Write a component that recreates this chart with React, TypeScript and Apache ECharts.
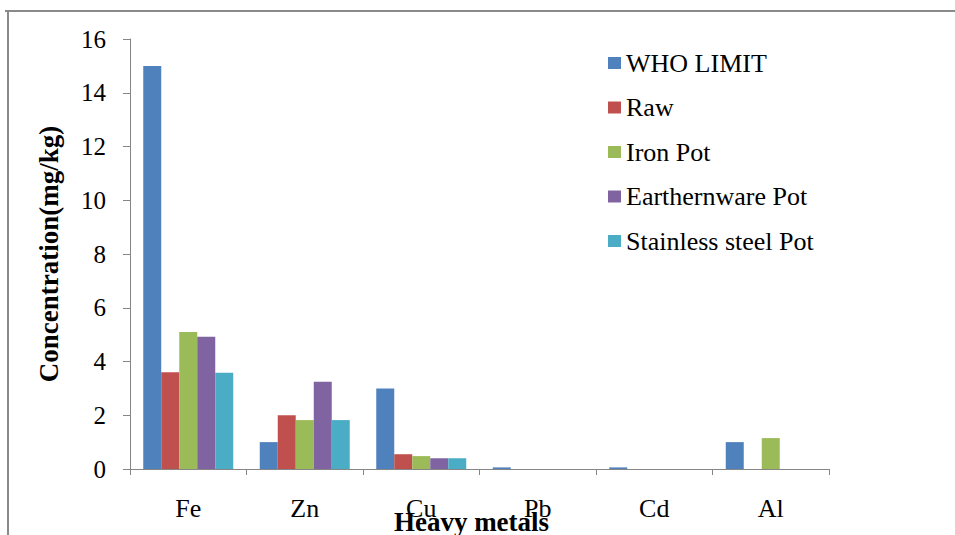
import React, { useEffect, useRef } from "react";
import * as echarts from "echarts";

const categories = ["Fe", "Zn", "Cu", "Pb", "Cd", "Al"];
const seriesNames = ["WHO LIMIT", "Raw", "Iron Pot", "Earthernware Pot", "Stainless steel Pot"];
const whoLimit = [15, 1.0, 3.0, 0.06, 0.06, 1.0];
const raw = [3.6, 2.0, 0.55, null, null, null];
const ironPot = [5.1, 1.82, 0.48, null, null, 1.15];
const earthenwarePot = [4.92, 3.25, 0.4, null, null, null];
const stainlessPot = [3.58, 1.82, 0.4, null, null, null];
const yTicks = { min: 0, max: 16, interval: 2 };
const colors = ["#4F81BD", "#C0504D", "#9BBB59", "#8064A2", "#4BACC6"];

const FONT = "Liberation Serif, Times New Roman, serif";

export default function App() {
  const ref = useRef<HTMLDivElement>(null);
  useEffect(() => {
    document.body.style.margin = "0";
    if (!ref.current) return;
    const chart = echarts.init(ref.current, undefined, { renderer: "svg" });
    const values = [whoLimit, raw, ironPot, earthenwarePot, stainlessPot];
    chart.setOption({
      animation: false,
      backgroundColor: "#ffffff",
      textStyle: { fontFamily: FONT },
      grid: {
        left: 130,
        top: 39,
        right: 126,
        bottom: 66,
        containLabel: false,
        outerBoundsMode: "none",
      },
      legend: {
        orient: "vertical",
        left: 603,
        top: 45,
        itemWidth: 13,
        itemHeight: 12,
        itemGap: 18.5,
        icon: "rect",
        data: seriesNames,
        textStyle: { fontFamily: FONT, fontWeight: "normal", fontSize: 26, lineHeight: 26, color: "#000" },
      },
      xAxis: {
        type: "category",
        data: categories,
        name: "Heavy metals",
        nameLocation: "middle",
        nameGap: 39,
        nameMoveOverlap: false,
        nameTextStyle: {
          fontFamily: FONT,
          fontSize: 27,
          fontWeight: "bold",
          color: "#000",
          lineHeight: 27,
          padding: [0, 16, 0, 0],
        },
        axisLine: { show: true, lineStyle: { color: "#868686", width: 1 } },
        axisTick: { show: true, length: 6, alignWithLabel: false, lineStyle: { color: "#868686" } },
        axisLabel: { fontFamily: FONT, fontWeight: "normal", fontSize: 26, lineHeight: 26, color: "#000", margin: 26 },
        splitLine: { show: false },
      },
      yAxis: {
        type: "value",
        min: yTicks.min,
        max: yTicks.max,
        interval: yTicks.interval,
        name: "Concentration(mg/kg)",
        nameLocation: "middle",
        nameGap: 68,
        nameRotate: 90,
        nameMoveOverlap: false,
        nameTextStyle: {
          fontFamily: FONT,
          fontSize: 27,
          fontWeight: "bold",
          color: "#000",
          lineHeight: 27,
        },
        axisLine: { show: true, lineStyle: { color: "#868686", width: 1 } },
        axisTick: { show: true, length: 7, lineStyle: { color: "#868686" } },
        axisLabel: { fontFamily: FONT, fontWeight: "normal", fontSize: 25, color: "#000", margin: 24 },
        splitLine: { show: false },
      },
      series: seriesNames.map((name, i) => ({
        name,
        type: "bar",
        data: values[i],
        barWidth: 18,
        barGap: "0%",
        itemStyle: { color: colors[i] },
      })),
      graphic: [
        {
          type: "line",
          shape: { x1: 5, y1: 11, x2: 955, y2: 11 },
          style: { stroke: "#8a8a8a", lineWidth: 2 },
          z: 100,
        },
        {
          type: "line",
          shape: { x1: 8, y1: 11, x2: 8, y2: 535 },
          style: { stroke: "#8a8a8a", lineWidth: 2 },
          z: 100,
        },
      ],
    });
    return () => chart.dispose();
  }, []);
  return <div ref={ref} style={{ width: 955, height: 535 }} />;
}
